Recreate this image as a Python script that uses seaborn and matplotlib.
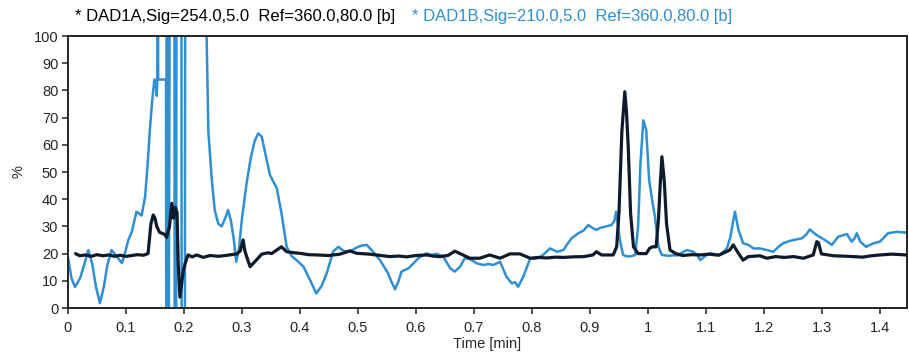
import matplotlib
matplotlib.use("Agg")
import matplotlib.pyplot as plt
import pandas as pd
import seaborn as sns

# DAD1A (254 nm) trace
time_a = [0.013, 0.02, 0.03, 0.04, 0.05, 0.06, 0.07, 0.08, 0.09, 0.10, 0.11, 0.12, 0.13, 0.138,
          0.143, 0.147, 0.150, 0.153, 0.158, 0.162, 0.167, 0.170, 0.175, 0.179, 0.182, 0.185,
          0.188, 0.190, 0.193, 0.196, 0.199, 0.202, 0.207, 0.214, 0.222, 0.233, 0.245, 0.26,
          0.275, 0.291, 0.297, 0.302, 0.305, 0.308, 0.314, 0.322, 0.334, 0.345, 0.351, 0.36,
          0.368, 0.377, 0.39, 0.40, 0.415, 0.43, 0.45, 0.469, 0.486, 0.498, 0.52, 0.54, 0.555,
          0.57, 0.584, 0.60, 0.618, 0.63, 0.641, 0.655, 0.667, 0.68, 0.693, 0.71, 0.727, 0.745,
          0.762, 0.779, 0.797, 0.81, 0.826, 0.84, 0.854, 0.87, 0.89, 0.905, 0.911, 0.92, 0.94,
          0.946, 0.950, 0.955, 0.960, 0.963, 0.966, 0.970, 0.975, 0.983, 0.997, 1.003, 1.008,
          1.014, 1.018, 1.021, 1.024, 1.028, 1.032, 1.038, 1.048, 1.06, 1.075, 1.09, 1.105,
          1.122, 1.141, 1.147, 1.156, 1.164, 1.173, 1.193, 1.205, 1.22, 1.235, 1.251, 1.268,
          1.285, 1.291, 1.294, 1.299, 1.32, 1.345, 1.37, 1.385, 1.40, 1.42, 1.446]
signal_a = [20, 19.2, 19.5, 19, 19.6, 19.2, 19.5, 19, 19.4, 19, 19.3, 19.6, 19.4, 20,
            31, 34.2, 33, 30, 27.8, 27.5, 27, 26, 30, 38.5, 33, 37,
            35, 16.4, 4, 9, 14, 16.4, 19.5, 18.8, 19.5, 18.6, 19.3, 19,
            19.4, 19.9, 21, 25, 21, 18.9, 15.2, 17, 19.8, 20.3, 20, 21.3,
            22.5, 20.7, 20.3, 20.1, 19.6, 19.5, 19.3, 19.8, 21, 20.1, 19.8, 19.3, 18.9,
            19.1, 18.8, 19.3, 19.5, 19.1, 18.9, 19.3, 20.9, 19.6, 18.3, 18.3, 19.5, 18.3,
            19.9, 19.9, 18.3, 18.6, 18.4, 18.7, 18.6, 18.8, 18.9, 19.5, 20.7, 19.5, 19.5,
            22.5, 35, 65, 79.5, 72, 59, 34.8, 22.5, 20, 20, 22, 22.5,
            22.5, 32.3, 45, 55.6, 47, 31, 21.3, 20, 19.3, 19.6, 19.5, 19.8,
            19.4, 21.3, 23.2, 20.1, 17.6, 18.9, 19.2, 18.3, 18.9, 18.6, 18.9, 18.3,
            19.5, 24.4, 24, 19.9, 19.2, 19, 18.7, 19.2, 19.5, 19.8, 19.5]

# DAD1B (210 nm) trace; values above 100 / below 0 are the off-scale spikes
time_b = [0.0, 0.006, 0.012, 0.021, 0.028, 0.035, 0.042, 0.048, 0.055, 0.062, 0.068, 0.075,
          0.084, 0.093, 0.098, 0.104, 0.110, 0.118, 0.127, 0.133, 0.137, 0.141, 0.145, 0.149,
          0.151, 0.153, 0.154, 0.155, 0.1555, 0.169, 0.1695, 0.1705, 0.1715, 0.1725, 0.1735,
          0.1755, 0.1835, 0.184, 0.1865, 0.187, 0.1955, 0.196, 0.2015, 0.202, 0.238, 0.239,
          0.242, 0.248, 0.253, 0.259, 0.265, 0.271, 0.276, 0.281, 0.286, 0.290, 0.295, 0.300,
          0.308, 0.315, 0.322, 0.328, 0.334, 0.341, 0.348, 0.354, 0.360, 0.368, 0.377, 0.386,
          0.394, 0.406, 0.418, 0.428, 0.437, 0.446, 0.457, 0.466, 0.475, 0.483, 0.492, 0.500,
          0.508, 0.515, 0.526, 0.538, 0.552, 0.558, 0.564, 0.570, 0.575, 0.587, 0.596, 0.604,
          0.618, 0.627, 0.636, 0.647, 0.659, 0.667, 0.676, 0.684, 0.693, 0.705, 0.716, 0.725,
          0.733, 0.745, 0.756, 0.765, 0.771, 0.776, 0.785, 0.797, 0.805, 0.812, 0.819, 0.831,
          0.843, 0.854, 0.861, 0.868, 0.880, 0.889, 0.897, 0.904, 0.911, 0.918, 0.926, 0.937,
          0.942, 0.945, 0.948, 0.951, 0.957, 0.963, 0.970, 0.978, 0.983, 0.987, 0.992, 0.997,
          1.002, 1.008, 1.012, 1.018, 1.024, 1.035, 1.045, 1.052, 1.060, 1.067, 1.078, 1.085,
          1.090, 1.098, 1.107, 1.124, 1.136, 1.142, 1.146, 1.150, 1.153, 1.156, 1.164, 1.173,
          1.182, 1.193, 1.205, 1.216, 1.225, 1.233, 1.242, 1.251, 1.265, 1.273, 1.279, 1.285,
          1.291, 1.305, 1.317, 1.328, 1.343, 1.351, 1.356, 1.360, 1.366, 1.376, 1.389, 1.400,
          1.414, 1.429, 1.446]
signal_b = [18.7, 11, 7.7, 11, 16, 21.3, 16, 8, 1.8, 8, 16, 21.3,
            19, 16.5, 20, 25, 28, 35.4, 34, 41, 52, 65, 76, 84,
            83, 78, 84, 130, 84, 84, -30, 130, -30, 130, -30,
            130, 130, -30, -30, 130, 130, -30, -30, 130, 130, 100,
            65, 47, 36, 31, 30, 33, 36, 32, 25, 17, 22, 33,
            46, 55, 61.5, 64.2, 63, 56, 49, 46.5, 44, 35, 22.5, 19,
            17.6, 15.2, 10, 5.4, 8, 12.7, 20.7, 22.5, 21, 20.7, 21.5, 22.5,
            23, 23.2, 20.7, 17.6, 12.7, 9.5, 6.9, 10, 13.4, 14.6, 16.5, 18.3,
            20.1, 19.5, 19.9, 18.9, 14.6, 13.4, 15.2, 18.3, 18, 16.4, 15.8, 16.2,
            15.8, 17, 11.5, 9.1, 9.5, 7.8, 11.5, 18.3, 18, 18.5, 19.5, 21.9,
            20.7, 21.3, 23.5, 25.6, 27.5, 28.5, 30.5, 29.5, 28.7, 29.5, 29.9, 30.5,
            32, 35.4, 31, 25.6, 19.5, 19, 19, 19.5, 30, 53, 69, 65.4,
            47, 38.5, 33.6, 22.5, 19.5, 19.2, 19.4, 19.3, 20.5, 21.3, 20.7, 19.5,
            17.6, 19, 20.1, 19.5, 21.9, 26, 31, 35.4, 32, 28.7, 23.8, 23.2,
            21.9, 21.9, 21.3, 20.7, 22.5, 23.8, 24.5, 25, 25.6, 27, 28.9, 27.8,
            26.8, 25, 23.2, 26.2, 27.2, 24.4, 25.5, 27.5, 24.4, 22.5, 23.8, 24.4,
            27.5, 28, 27.7]

x_ticks = [0, 0.1, 0.2, 0.3, 0.4, 0.5, 0.6, 0.7, 0.8, 0.9, 1, 1.1, 1.2, 1.3, 1.4]
x_tick_labels = ["0", "0.1", "0.2", "0.3", "0.4", "0.5", "0.6", "0.7", "0.8", "0.9",
                 "1", "1.1", "1.2", "1.3", "1.4"]
y_ticks = [0, 10, 20, 30, 40, 50, 60, 70, 80, 90, 100]

dark = "#0e1b2c"
blue = "#2f8fd3"

sns.set_style("ticks")
plt.rcParams["font.family"] = ["Liberation Sans", "DejaVu Sans"]

df_a = pd.DataFrame({"time": time_a, "signal": signal_a})
df_b = pd.DataFrame({"time": time_b, "signal": signal_b})

fig = plt.figure(figsize=(9.09, 3.54), dpi=100)
ax = fig.add_axes([68 / 909, 46 / 354, 839 / 909, 272 / 354])

sns.lineplot(data=df_b, x="time", y="signal", ax=ax, color=blue, lw=1.8,
             sort=False, estimator=None)
sns.lineplot(data=df_a, x="time", y="signal", ax=ax, color=dark, lw=2.3,
             sort=False, estimator=None)

ax.set_xlim(0, 1.4466)
ax.set_ylim(0, 100)
ax.set_xticks(x_ticks)
ax.set_xticklabels(x_tick_labels)
ax.set_yticks(y_ticks)
ax.tick_params(labelsize=10.5, length=4, width=1.2, color="#333333", pad=3)
ax.tick_params(axis="x", pad=5)
for s in ax.spines.values():
    s.set_visible(True)
    s.set_linewidth(1.4)
    s.set_color("#222222")
ax.set_xlabel("Time [min]", fontsize=10.5, labelpad=2)
ax.set_ylabel("%", fontsize=10.5, labelpad=6)

fig.text(75 / 909, 1 - 17 / 354, "* DAD1A,Sig=254.0,5.0  Ref=360.0,80.0 [b]",
         color="black", fontsize=12, va="center", ha="left")
fig.text(412 / 909, 1 - 17 / 354, "* DAD1B,Sig=210.0,5.0  Ref=360.0,80.0 [b]",
         color=blue, fontsize=12, va="center", ha="left")

fig.savefig("out.png", dpi=100)
